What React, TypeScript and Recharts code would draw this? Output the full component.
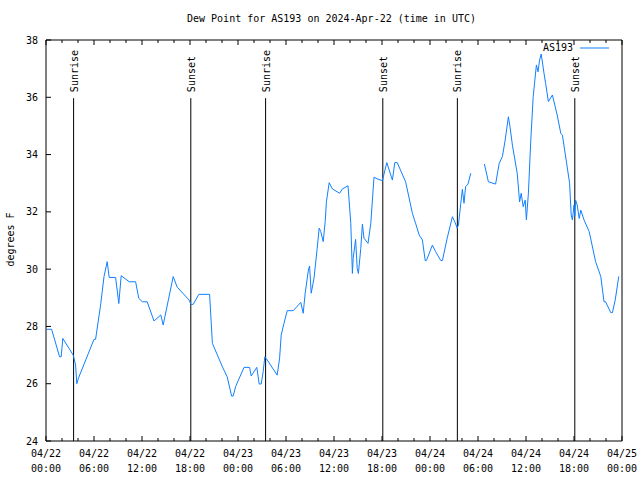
import { Line, LineChart, ReferenceLine, XAxis, YAxis } from "recharts";

const hours = [
  0.1, 0.7, 1.7, 1.9, 2.1, 3.4, 3.7, 3.85, 4.05, 6.0, 6.2, 6.85, 7.25, 7.65, 7.9, 8.7, 9.1, 9.4,
  10.4, 11.2, 11.6, 12.05, 12.65, 13.5, 14.35, 14.65, 15.9, 16.4, 17.9, 18.1, 18.4, 19.1, 20.45,
  20.8, 22.05, 22.65, 23.2, 23.4, 23.7, 24.75, 25.45, 25.65, 26.35, 26.65, 26.9, 27.15, 27.35,
  27.65, 28.9, 29.2, 29.4, 29.75, 30.15, 30.9, 31.85, 32.15, 32.4, 32.8, 32.95, 33.15, 33.5,
  33.9, 34.15, 34.35, 34.65, 34.9, 35.05, 35.4, 35.8, 36.7, 37.05, 37.75, 38.1, 38.3, 38.4, 38.7,
  38.9, 39.05, 39.35, 39.55, 39.75, 40.25, 40.6, 41.0, 41.4, 42.05, 42.6, 43.3, 43.6, 43.9, 44.95,
  45.8, 46.2, 46.65, 47.05, 47.4, 47.55, 48.3, 48.7, 49.35, 49.55, 50.15, 50.8, 51.15, 51.4, 51.55,
  51.85, 52.05, 52.25, 52.45, 52.75, 53.1, 54.0, 54.8, 55.3, 56.2, 56.65, 57.05, 57.4, 57.8, 58.0,
  58.3, 58.9, 59.2, 59.4, 59.65, 59.9, 60.05, 60.3, 60.6, 60.9, 61.3, 61.5, 61.7, 61.9, 62.25, 62.45,
  62.8, 63.3, 63.9, 64.35, 64.55, 65.05, 65.45, 65.65, 65.8, 66.0, 66.1, 66.2, 66.4, 66.65, 66.85,
  67.25, 67.9, 68.7, 69.35, 69.75, 69.95, 70.6, 70.8, 71.15, 71.6,
];

const dewPoint: (number | null)[] = [
  27.9, 27.9, 26.94, 26.94, 27.58, 27.0, 26.65, 26.0, 26.19, 27.55, 27.55, 28.8, 29.74, 30.26,
  29.71, 29.71, 28.8, 29.77, 29.56, 29.56, 28.98, 28.86, 28.86, 28.19, 28.4, 28.05, 29.74, 29.37,
  28.92, 28.77, 28.77, 29.12, 29.12, 27.41, 26.59, 26.24, 25.57, 25.57, 25.9, 26.57, 26.57, 26.27,
  26.57, 25.99, 25.99, 26.42, 26.94, 26.83, 26.3, 26.89, 27.7, 28.11, 28.55, 28.55, 28.84, 28.46,
  29.16, 29.97, 30.11, 29.16, 29.68, 30.73, 31.43, 31.31, 30.96, 31.66, 32.35, 33.02, 32.8, 32.65,
  32.8, 32.91, 31.6, 29.85, 30.38, 31.04, 30.03, 29.85, 30.73, 31.57, 31.08, 30.9, 31.6, 33.21,
  33.15, 33.09, 33.72, 33.11, 33.72, 33.72, 33.05, 31.95, 31.6, 31.19, 31.02, 30.3, 30.3, 30.84,
  30.61, 30.3, 30.3, 31.08, 31.83, 31.62, 31.43, 31.54, 32.3, 32.79, 32.3, 32.88, 32.97, 33.35,
  null, 33.67, 33.05, 32.97, 33.69, 33.93, 34.51, 35.32, 34.97, 34.33, 33.35, 32.35, 32.65, 32.18,
  32.41, 31.72, 32.65, 34.51, 36.02, 37.13, 36.89, 37.3, 37.51, 36.84, 36.49, 35.85, 36.08, 35.38,
  34.74, 34.68, 33.75, 33.0, 31.89, 31.72, 32.24, 31.86, 32.41, 32.24, 31.77, 32.06, 31.72, 31.31,
  30.26, 29.74, 28.86, 28.86, 28.48, 28.48, 28.92, 29.75,
];

const sunrise = [3.45, 27.45, 51.42];
const sunset = [18.1, 42.1, 66.1];

const xTicks = [0, 2, 4, 6, 8, 10, 12, 14, 16, 18, 20, 22, 24, 26, 28, 30, 32, 34, 36, 38, 40, 42, 44, 46, 48, 50, 52, 54, 56, 58, 60, 62, 64, 66, 68, 70, 72];
const yTicks = [24, 26, 28, 30, 32, 34, 36, 38];

const data = hours.map((h, i) => ({ h, v: dewPoint[i] }));

const FONT = "'DejaVu Sans Mono', monospace";
const LINE = "#1080ff";

const pad = (n: number) => String(n).padStart(2, "0");

function BottomTick({ x, y, payload }: any) {
  const h = payload.value;
  const major = h % 6 === 0;
  return (
    <g>
      <line x1={x} x2={x} y1={y} y2={y - (major ? 5 : 3)} stroke="#000" />
      {major && (
        <text x={x} y={y + 16} textAnchor="middle" fontFamily={FONT} fontSize={10} fill="#000">
          <tspan x={x}>{`04/${22 + Math.floor(h / 24)}`}</tspan>
          <tspan x={x} dy={15}>{`${pad(h % 24)}:00`}</tspan>
        </text>
      )}
    </g>
  );
}

function TopTick({ x, y, payload }: any) {
  const major = payload.value % 6 === 0;
  return <line x1={x} x2={x} y1={y} y2={y + (major ? 5 : 3)} stroke="#000" />;
}

function LeftTick({ x, y, payload }: any) {
  return (
    <g>
      <line x1={x} x2={x + 5} y1={y} y2={y} stroke="#000" />
      <text x={x - 8} y={y} dy="0.35em" textAnchor="end" fontFamily={FONT} fontSize={10} fill="#000">
        {payload.value}
      </text>
    </g>
  );
}

function RightTick({ x, y }: any) {
  return <line x1={x} x2={x - 5} y1={y} y2={y} stroke="#000" />;
}

const eventLabel = (text: string) => (props: any) => {
  const vb = props.viewBox;
  return (
    <text
      transform={`translate(${vb.x + 4},${vb.y - 6}) rotate(-90)`}
      fontFamily={FONT}
      fontSize={10}
      fill="#000"
    >
      {text}
    </text>
  );
};

export default function App() {
  return (
    <div style={{ position: "absolute", left: 0, top: 0, width: 640, height: 480, background: "#fff" }}>
      <div
        style={{
          position: "absolute",
          left: 187,
          top: 13,
          fontFamily: FONT,
          fontSize: 10,
          whiteSpace: "nowrap",
        }}
      >
        Dew Point for AS193 on 2024-Apr-22 (time in UTC)
      </div>
      <div
        style={{
          position: "absolute",
          left: -20,
          top: 234,
          width: 60,
          textAlign: "center",
          transform: "rotate(-90deg)",
          fontFamily: FONT,
          fontSize: 10,
          whiteSpace: "nowrap",
        }}
      >
        degrees F
      </div>
      <div
        style={{
          position: "absolute",
          left: 543,
          top: 42,
          display: "flex",
          alignItems: "center",
          fontFamily: FONT,
          fontSize: 10,
          zIndex: 1,
        }}
      >
        <span>AS193</span>
        <svg width={36} height={6} style={{ marginLeft: 7 }}>
          <line x1={0} x2={29} y1={3} y2={3} stroke={LINE} />
        </svg>
      </div>
      <LineChart
        width={640}
        height={480}
        data={data}
        margin={{ top: 39, right: 17, bottom: 9, left: 6 }}
        style={{ position: "absolute", left: 0, top: 0 }}
      >
        <XAxis
          xAxisId="b"
          dataKey="h"
          type="number"
          domain={[0, 72]}
          ticks={xTicks}
          interval={0}
          height={30}
          tickSize={0}
          tickMargin={0}
          tickLine={false}
          axisLine={{ stroke: "#000" }}
          tick={<BottomTick />}
        />
        <XAxis
          xAxisId="t"
          orientation="top"
          dataKey="h"
          type="number"
          domain={[0, 72]}
          ticks={xTicks}
          interval={0}
          height={1}
          tickSize={0}
          tickMargin={0}
          tickLine={false}
          axisLine={{ stroke: "#000" }}
          tick={<TopTick />}
        />
        <YAxis
          yAxisId="l"
          type="number"
          domain={[24, 38]}
          ticks={yTicks}
          interval={0}
          width={40}
          tickSize={0}
          tickMargin={0}
          tickLine={false}
          axisLine={{ stroke: "#000" }}
          tick={<LeftTick />}
        />
        <YAxis
          yAxisId="r"
          orientation="right"
          type="number"
          domain={[24, 38]}
          ticks={yTicks}
          interval={0}
          width={1}
          tickSize={0}
          tickMargin={0}
          tickLine={false}
          axisLine={{ stroke: "#000" }}
          tick={<RightTick />}
        />
        {sunrise.map((h) => (
          <ReferenceLine
            key={`sr${h}`}
            xAxisId="b"
            yAxisId="l"
            segment={[
              { x: h, y: 24 },
              { x: h, y: 35.97 },
            ]}
            stroke="#000"
            label={eventLabel("Sunrise")}
          />
        ))}
        {sunset.map((h) => (
          <ReferenceLine
            key={`ss${h}`}
            xAxisId="b"
            yAxisId="l"
            segment={[
              { x: h, y: 24 },
              { x: h, y: 35.97 },
            ]}
            stroke="#000"
            label={eventLabel("Sunset")}
          />
        ))}
        <Line
          xAxisId="b"
          yAxisId="l"
          dataKey="v"
          type="linear"
          stroke={LINE}
          strokeWidth={1}
          dot={false}
          connectNulls={false}
          isAnimationActive={false}
        />
      </LineChart>
    </div>
  );
}
